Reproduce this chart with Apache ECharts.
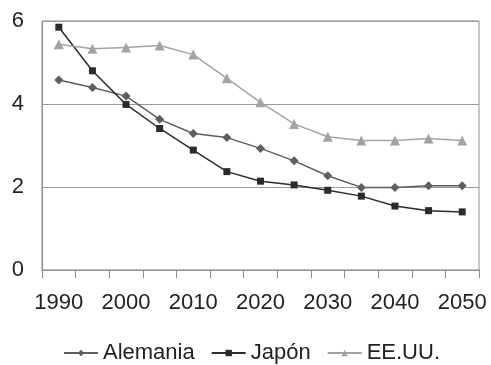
<!DOCTYPE html>
<html>
<head>
<meta charset="utf-8">
<script src="https://cdn.jsdelivr.net/npm/echarts@6/dist/echarts.min.js"></script>
<style>
  html, body { margin: 0; padding: 0; background: #fff; }
  #chart { width: 491px; height: 365px; }
</style>
</head>
<body>
<div id="chart"></div>
<script>
  // años (cada 5 años, se etiqueta cada 10)
  var years = ['1990', '1995', '2000', '2005', '2010', '2015', '2020', '2025', '2030', '2035', '2040', '2045', '2050']
  var alemania = [4.58, 4.40, 4.19, 3.63, 3.29, 3.19, 2.93, 2.63, 2.27, 1.99, 1.99, 2.03, 2.03]
  var japon = [5.85, 4.80, 3.99, 3.41, 2.89, 2.37, 2.14, 2.05, 1.92, 1.78, 1.54, 1.43, 1.40]
  var eeuu = [5.44, 5.33, 5.36, 5.41, 5.19, 4.62, 4.04, 3.52, 3.21, 3.12, 3.12, 3.17, 3.12]

  var chart = echarts.init(document.getElementById('chart'))
  var font = 'Liberation Sans, Arial, sans-serif'

  chart.setOption({
    animation: false,
    textStyle: { fontFamily: font },
    grid: {
      left: 42, right: 12, top: 21, bottom: 95,
      show: true, borderColor: '#8c8c8c', borderWidth: 1
    },
    legend: {
      top: 337,
      left: 58,
      itemWidth: 34,
      itemHeight: 8,
      itemGap: 16,
      textStyle: { fontSize: 22, color: '#222', fontFamily: font },
      data: ['Alemania', 'Japón', 'EE.UU.']
    },
    xAxis: {
      type: 'category',
      data: years,
      boundaryGap: true,
      axisLine: { lineStyle: { color: '#8c8c8c', width: 1 } },
      axisTick: { show: true, interval: 0, length: 8, lineStyle: { color: '#8c8c8c' } },
      axisLabel: { interval: 1, margin: 22, fontSize: 22, color: '#222' }
    },
    yAxis: {
      type: 'value',
      min: 0, max: 6, interval: 2,
      axisLine: { show: true, lineStyle: { color: '#8c8c8c', width: 1 } },
      axisTick: { show: false },
      axisLabel: { margin: 18, fontSize: 22, color: '#222' },
      splitLine: { lineStyle: { color: '#9a9a9a', width: 1 } }
    },
    series: [
      {
        name: 'Alemania', type: 'line', data: alemania,
        symbol: 'diamond', symbolSize: 9,
        lineStyle: { color: '#5e5e5e', width: 1.5 },
        itemStyle: { color: '#5e5e5e' }
      },
      {
        name: 'Japón', type: 'line', data: japon,
        symbol: 'rect', symbolSize: 7,
        lineStyle: { color: '#2b2b2b', width: 1.5 },
        itemStyle: { color: '#2b2b2b' }
      },
      {
        name: 'EE.UU.', type: 'line', data: eeuu,
        symbol: 'triangle', symbolSize: 10,
        lineStyle: { color: '#a3a3a3', width: 1.5 },
        itemStyle: { color: '#a3a3a3' }
      }
    ]
  })
</script>
</body>
</html>
